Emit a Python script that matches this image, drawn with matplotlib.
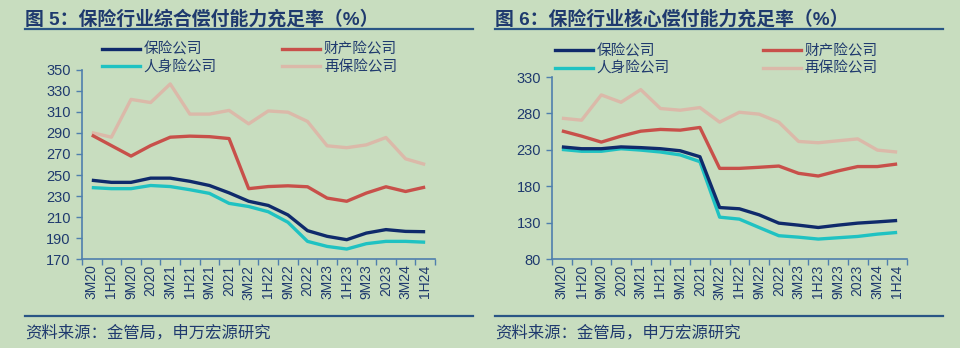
import matplotlib
matplotlib.use("Agg")
import matplotlib.pyplot as plt
from matplotlib.lines import Line2D

plt.rcParams['font.family'] = ['Liberation Sans', 'Noto Sans CJK SC', 'DejaVu Sans']

# 横轴类别
periods = ["3M20", "1H20", "9M20", "2020", "3M21", "1H21", "9M21", "2021", "3M22",
           "1H22", "9M22", "2022", "3M23", "1H23", "9M23", "2023", "3M24", "1H24"]
series_names = ["保险公司", "财产险公司", "人身险公司", "再保险公司"]

# 图5：综合偿付能力充足率（%）
comp_total = [245, 243, 243, 247, 247, 244, 240, 233, 225, 221, 212, 197, 191.6, 188.4, 194.7, 198, 196.3, 196]
comp_property = [288, 278, 268, 278, 286, 287, 286.5, 284.7, 237, 239, 239.7, 238.8, 228, 225, 232.8, 238.8, 234.3, 238.5]
comp_life = [238, 237, 237, 240, 239, 236, 232.5, 223, 220, 215, 205, 186.8, 182, 179.5, 184.6, 186.8, 186.8, 186]
comp_re = [290.4, 286, 322, 319, 336.7, 308, 308, 311.5, 298.7, 311, 309.8, 301, 277.8, 276, 278.7, 285.7, 265.4, 260]

# 图6：核心偿付能力充足率（%）
core_total = [234, 231.5, 231.5, 234, 233, 231.5, 228.7, 220.5, 150.7, 149, 140.7, 129.3, 126.5, 123.3, 126.5, 129.3, 131, 132.9]
core_property = [256, 248.8, 240.6, 248.8, 255.6, 258, 257, 260.7, 204.5, 204.5, 206, 207.7, 197.7, 194, 201, 207, 207, 210.5]
core_life = [230.5, 228, 228, 231.5, 229.6, 227, 223, 213.7, 137.5, 134.8, 123.3, 112, 110, 107.4, 109.2, 111, 114.2, 116.5]
core_re = [273.4, 270.7, 305.4, 295.3, 312.7, 286.7, 284.4, 288, 268, 281.6, 279, 268, 241.5, 239.7, 242.4, 245, 229.6, 226.9]

BG = "#c8ddbf"
NAVY = "#0f2a6b"
RED = "#c8504a"
CYAN = "#1fc2c2"
PINK = "#dbb9a9"
AXIS = "#4f7fad"
TEXT = "#1f3a6e"

fig = plt.figure(figsize=(9.6, 3.48), dpi=100, facecolor=BG)


def draw_panel(rect, data, yticks, title, title_x, line_x, leg_x, leg_y, colspace):
    ax = fig.add_axes(rect, facecolor=BG)
    x = list(range(len(periods)))
    colors = [NAVY, RED, CYAN, PINK]
    order = [3, 1, 2, 0]  # 绘制顺序：再保险在最下层
    for k in order:
        ax.plot(x, data[k], color=colors[k], lw=2.4, solid_capstyle="butt", zorder=3 + (k == 0))
    ax.set_xlim(-0.5, len(periods) - 0.5)
    ax.set_ylim(yticks[0], yticks[-1])
    ax.set_yticks(yticks)
    ax.set_xticks(x)
    ax.set_xticklabels(periods, rotation=90)
    ax.set_xticks([i - 0.5 for i in range(len(periods) + 1)], minor=True)
    ax.tick_params(axis="x", which="major", length=0, pad=4, labelsize=10, labelcolor=TEXT)
    ax.tick_params(axis="x", which="minor", length=4, width=1, color=AXIS, direction="out")
    ax.tick_params(axis="y", length=4, width=1, color=AXIS, labelsize=10.5, labelcolor=TEXT, pad=4)
    for s in ["top", "right"]:
        ax.spines[s].set_visible(False)
    for s in ["left", "bottom"]:
        ax.spines[s].set_color(AXIS)
        ax.spines[s].set_linewidth(1.2)

    handles = [Line2D([], [], color=colors[k], lw=2.4) for k in [0, 2, 1, 3]]
    labels = [series_names[k] for k in [0, 2, 1, 3]]
    leg = ax.legend(handles, labels, ncol=2, loc="upper left", bbox_to_anchor=(leg_x, leg_y),
                    frameon=False, fontsize=10.5, handlelength=2.6, handletextpad=0.25,
                    labelspacing=0.25, columnspacing=colspace, borderpad=0, borderaxespad=0)
    for t in leg.get_texts():
        t.set_color(TEXT)

    fig.text(title_x, 0.946, title, fontsize=13.6, fontweight="bold", color=TEXT,
             va="center", ha="left")
    fig.add_artist(Line2D(line_x, [0.917, 0.917], color="#2a5585", lw=1.6))
    fig.add_artist(Line2D(line_x, [0.092, 0.092], color="#2a5585", lw=1.6))
    fig.text(title_x, 0.045, "资料来源：金管局，申万宏源研究", fontsize=11.8, color=TEXT,
             va="center", ha="left")
    return ax


draw_panel([0.0854, 0.2557, 0.3677, 0.5432],
           [comp_total, comp_property, comp_life, comp_re],
           list(range(170, 351, 20)),
           "图 5：保险行业综合偿付能力充足率（%）",
           0.026, [0.026, 0.493], 0.057, 1.145, 4.5)

draw_panel([0.575, 0.2557, 0.3698, 0.523],
           [core_total, core_property, core_life, core_re],
           list(range(80, 331, 50)),
           "图 6：保险行业核心偿付能力充足率（%）",
           0.516, [0.516, 0.982], 0.008, 1.18, 6.4)

fig.savefig("out.png", dpi=100, facecolor=BG)
